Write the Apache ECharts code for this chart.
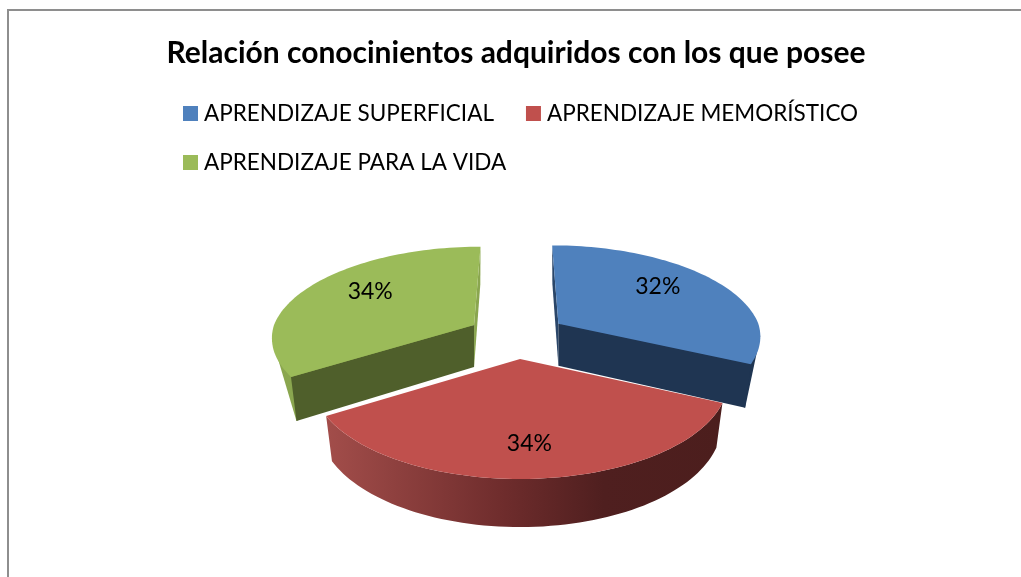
<!DOCTYPE html>
<html>
<head>
<meta charset="utf-8">
<style>html,body{margin:0;padding:0;background:#fff}#c{width:1021px;height:577px}</style>
<script src="https://cdn.jsdelivr.net/npm/echarts@6/dist/echarts.min.js"></script>
</head>
<body>
<div id="c"></div>
<script>
const titleText = 'Relación conocinientos adquiridos con los que posee';
const categories = ['APRENDIZAJE SUPERFICIAL', 'APRENDIZAJE MEMORÍSTICO', 'APRENDIZAJE PARA LA VIDA'];
const values = [32, 34, 34];
const topColors = ['#4f81bd', '#c0504d', '#9bbb59'];
const faceColors = ['#1f3552', '#4f1f1f', '#4f5f2b'];
const fontFamily = 'Lato, Carlito, Calibri, sans-serif';

const total = values.reduce((a, b) => a + b, 0);
const view = {cx: 517, cy: 336, ex: 49, ey: 23, depth: 42, taper: 0.97};

function wallFill(i) {
  if (i === 1) return new echarts.graphic.LinearGradient(328, 0, 722, 0, [
    {offset: 0, color: '#a24d4a'}, {offset: 0.45, color: '#6e2c2c'}, {offset: 0.7, color: '#4f1f1f'}, {offset: 1, color: '#4c1e1d'}
  ], true);
  if (i === 2) return '#8aa64f';
  return faceColors[0];
}

function sliceShape(i, value) {
  const start = values.slice(0, i).reduce((a, b) => a + b, 0) / total * Math.PI * 2;
  const end = start + value / total * Math.PI * 2;
  const mid = (start + end) / 2;
  const c = Math.cos(mid);
  const persp = 0.168 - 0.049 * c, ry = 91 - 3 * c, rx = 201 - 2 * c;
  const ox = Math.sin(mid) * view.ex, oy = -c * view.ey;
  const ax = view.cx + ox, ay = view.cy + oy;
  const proj = (t, r) => {
    const X = Math.sin(t) * r, Y = Math.cos(t) * r;
    const w = 1 + Y * persp;
    return {x: ax + X * rx / w - 0.15 * Math.max(Y, 0) * ox, y: ay - Y * ry / w, w};
  };
  const low = p => {
    const d = view.depth + (1 - p.w) * 28;
    return [ax + (p.x - ax) * view.taper, p.y + d];
  };
  const apex = {x: ax, y: ay, w: 1};
  const arc = [];
  const n = 72;
  for (let k = 0; k <= n; k++) arc.push(proj(start + (end - start) * k / n, 1));
  const top = [[ax, ay]].concat(arc.map(p => [p.x, p.y]));
  const widest = arc.reduce((a, b) => Math.abs(b.x - ax) > Math.abs(a.x - ax) ? b : a);
  const corner = i === 0 ? arc[n] : arc[0];
  const wall = i === 1
    ? arc.map(p => [p.x, p.y]).concat(arc.slice().reverse().map(low))
    : [[widest.x, widest.y], low(corner), [ax, ay]];
  const face = p => [[ax, ay], [p.x, p.y], low(p), low(apex)];
  const lab = proj(mid, 0.63);
  const poly = (points, fill) => ({type: 'polygon', shape: {points}, style: {fill, stroke: null}});
  const children = [];
  if (i === 0) children.push(poly(face(arc[0]), '#2a4669'));
  if (i === 2) children.push(poly(face(arc[n]), '#8aa64f'));
  children.push(poly(wall, wallFill(i)));
  if (i === 0) children.push(poly(face(arc[n]), faceColors[0]));
  if (i === 2) children.push(poly(face(arc[0]), faceColors[2]));
  children.push(poly(top, topColors[i]));
  children.push({type: 'text', style: {x: lab.x, y: lab.y + oy * 0.7, text: Math.round(value / total * 100) + '%',
    fill: '#000', fontFamily, fontSize: 23, align: 'center', verticalAlign: 'middle'}});
  return {type: 'group', children};
}

const legendBase = {
  left: 178, orient: 'horizontal',
  itemWidth: 15, itemHeight: 15, itemGap: 32, icon: 'rect',
  textStyle: {fontFamily, fontSize: 22.5, color: '#000', padding: [0, 0, 0, 1]}
};

const chart = echarts.init(document.getElementById('c'), null, {renderer: 'canvas'});
chart.setOption({
  animation: false,
  backgroundColor: '#fff',
  title: {text: titleText, left: 511, top: 33, textAlign: 'center',
    textStyle: {fontFamily, fontWeight: 'bold', fontSize: 30, color: '#000'}},
  legend: [
    Object.assign({}, legendBase, {data: categories.slice(0, 2), top: 97}),
    Object.assign({}, legendBase, {data: categories.slice(2), top: 146})
  ],
  graphic: [{type: 'rect', silent: true, z: -1, shape: {x: 8, y: 10, width: 1100, height: 1000},
    style: {fill: 'none', stroke: '#8e8e8e', lineWidth: 2}}],
  series: categories.map((name, i) => ({
    type: 'custom', name, coordinateSystem: 'none', z: i === 1 ? 4 : 2,
    itemStyle: {color: topColors[i]}, silent: true,
    data: [values[i]],
    renderItem: (params, api) => sliceShape(i, api.value(0))
  }))
});
</script>
</body>
</html>
